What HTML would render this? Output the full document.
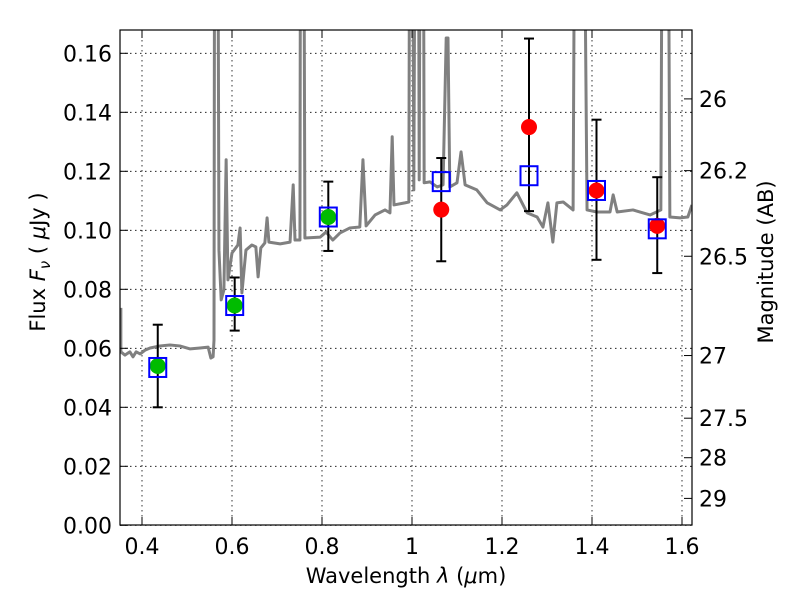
<!DOCTYPE html>
<html><head><meta charset="utf-8"><style>
body{margin:0;background:#fff;}
svg text{font-family:"DejaVu Sans","Liberation Sans",sans-serif;fill:#000;}
</style></head><body>
<svg id="chart" width="800" height="600" xmlns="http://www.w3.org/2000/svg">
<defs><clipPath id="clip"><rect x="120" y="30" width="572" height="495"/></clipPath></defs>
<g id="grid"></g>
<g id="plot" clip-path="url(#clip)"></g>
<rect x="120" y="30" width="572" height="495" fill="none" stroke="#000" stroke-width="1.2"/>
<g id="axes"></g>
<text x="406" y="583" font-size="21" text-anchor="middle">Wavelength  <tspan font-style="italic">λ</tspan> (<tspan font-style="italic">μ</tspan>m)</text>
<text transform="translate(45,262) rotate(-90)" font-size="21" text-anchor="middle">Flux  <tspan font-style="italic">F</tspan><tspan font-style="italic" font-size="15" dy="5">ν</tspan><tspan dy="-5">  (  </tspan><tspan font-style="italic">μ</tspan>Jy )</text>
<text transform="translate(773,262) rotate(-90)" font-size="21" text-anchor="middle">Magnitude (AB)</text>
</svg>
<script>
const specLam=[0.353,0.353,0.362,0.373,0.380,0.387,0.396,0.407,0.418,0.440,0.462,0.484,0.507,0.529,0.547,0.553,0.558,0.560,0.562,0.567,0.571,0.576,0.582,0.587,0.591,0.600,0.613,0.618,0.622,0.631,0.644,0.653,0.658,0.664,0.673,0.678,0.682,0.707,0.729,0.736,0.740,0.751,0.753,0.758,0.762,0.796,0.809,0.824,0.840,0.862,0.884,0.891,0.898,0.918,0.940,0.951,0.956,0.960,0.984,0.993,0.996,1.000,1.004,1.009,1.013,1.016,1.020,1.024,1.027,1.040,1.056,1.069,1.076,1.080,1.084,1.100,1.109,1.118,1.144,1.167,1.196,1.211,1.233,1.256,1.278,1.291,1.302,1.313,1.322,1.336,1.358,1.364,1.378,1.389,1.411,1.440,1.447,1.456,1.491,1.529,1.553,1.558,1.567,1.573,1.596,1.613,1.622];
const specFlux=[0.0737,0.0588,0.0577,0.0588,0.0571,0.0588,0.0581,0.0594,0.0601,0.0608,0.0611,0.0608,0.0598,0.0601,0.0604,0.0567,0.0571,0.0628,0.3,0.3,0.0933,0.0764,0.0798,0.1239,0.0832,0.0923,0.0950,0.1008,0.0788,0.0933,0.0950,0.0944,0.0842,0.0940,0.0957,0.1042,0.0960,0.0954,0.0960,0.1154,0.0967,0.0967,0.3,0.3,0.0974,0.0977,0.0994,0.0967,0.0991,0.1008,0.1011,0.1239,0.1015,0.1052,0.1069,0.1059,0.1317,0.1086,0.1093,0.1096,0.3,0.3,0.1137,0.3,0.3,0.1171,0.3,0.3,0.1161,0.1164,0.1147,0.1154,0.1652,0.1652,0.1147,0.1161,0.1266,0.1154,0.1137,0.1093,0.1069,0.1086,0.1127,0.1059,0.1045,0.1011,0.1093,0.0960,0.1093,0.1096,0.1069,0.3,0.3,0.1069,0.1062,0.1062,0.1120,0.1062,0.1069,0.1052,0.1069,0.3,0.3,0.1045,0.1042,0.1045,0.1086];
const bandLam=[0.435,0.606,0.814,1.065,1.26,1.41,1.545];
const modelFlux=[0.0535,0.0745,0.1045,0.1165,0.1185,0.1135,0.1005];
const obsFlux=[0.054,0.0745,0.1045,0.107,0.135,0.1135,0.1015];
const obsLow=[0.040,0.066,0.093,0.0895,0.1065,0.090,0.0855];
const obsHigh=[0.068,0.084,0.1165,0.1245,0.165,0.1375,0.118];
const obsColor=["#00bb00","#00bb00","#00bb00","#ff0000","#ff0000","#ff0000","#ff0000"];
const xTicks=[0.4,0.6,0.8,1.0,1.2,1.4,1.6];
const xTickLabels=["0.4","0.6","0.8","1","1.2","1.4","1.6"];
const yTicks=[0,0.02,0.04,0.06,0.08,0.10,0.12,0.14,0.16];
const yTickLabels=["0.00","0.02","0.04","0.06","0.08","0.10","0.12","0.14","0.16"];
const magTicks=[26,26.2,26.5,27,27.5,28,29];
const magLabels=["26","26.2","26.5","27","27.5","28","29"];

const NS="http://www.w3.org/2000/svg";
const X=l=>142+(l-0.4)*450;
const Y=f=>525.3-f*2950;
function mk(tag,attrs,parent){const e=document.createElementNS(NS,tag);for(const k in attrs)e.setAttribute(k,attrs[k]);parent.appendChild(e);return e;}
const grid=document.getElementById('grid'),plot=document.getElementById('plot'),axes=document.getElementById('axes');
xTicks.forEach((t,i)=>{
  const x=X(t);
  const g=mk('line',{x1:x,x2:x,y1:30,y2:525,stroke:'#000','stroke-width':0.8,'stroke-dasharray':'1.5,3.5'},grid);
  
  
  mk('line',{x1:x,x2:x,y1:525,y2:517,stroke:'#000'},axes);
  mk('line',{x1:x,x2:x,y1:30,y2:38,stroke:'#000'},axes);
  const tx=mk('text',{x:x,y:554,'font-size':22,'text-anchor':'middle'},axes);
  tx.textContent=xTickLabels[i];
  
  
});
yTicks.forEach((t,i)=>{
  const y=Y(t);
  const g=mk('line',{x1:120,x2:692,y1:y,y2:y,stroke:'#000','stroke-width':0.8,'stroke-dasharray':'1.5,3.5'},grid);
  
  
  mk('line',{x1:120,x2:128,y1:y,y2:y,stroke:'#000'},axes);
  const tx=mk('text',{x:112,y:y+8,'font-size':22,'text-anchor':'end'},axes);
  tx.textContent=yTickLabels[i];
  
  
});
magTicks.forEach((m,i)=>{
  const y=Y(Math.pow(10,(23.9-m)/2.5));
  mk('line',{x1:684,x2:692,y1:y,y2:y,stroke:'#000'},axes);
  const tx=mk('text',{x:699,y:y+8,'font-size':22},axes);
  tx.textContent=magLabels[i];
  
  
});
const sp=mk('polyline',{points:specLam.map((l,i)=>X(l)+','+Y(specFlux[i])).join(' '),fill:'none',stroke:'#808080','stroke-width':3,'stroke-linejoin':'round'},plot);


bandLam.forEach((l,i)=>{
  const x=X(l);
  const e=mk('g',{},plot);
  
  
  mk('line',{x1:x,x2:x,y1:Y(obsLow[i]),y2:Y(obsHigh[i]),stroke:'#000','stroke-width':2},e);
  mk('line',{x1:x-5,x2:x+5,y1:Y(obsLow[i]),y2:Y(obsLow[i]),stroke:'#000','stroke-width':2},e);
  mk('line',{x1:x-5,x2:x+5,y1:Y(obsHigh[i]),y2:Y(obsHigh[i]),stroke:'#000','stroke-width':2},e);
  const c=mk('circle',{cx:x,cy:Y(obsFlux[i]),r:8,fill:obsColor[i]},plot);
  
  
  const s=mk('rect',{x:x-8.5,y:Y(modelFlux[i])-9.5,width:17,height:19,fill:'none',stroke:'#0000ff','stroke-width':2},plot);
  
  
});
</script>
</body></html>
